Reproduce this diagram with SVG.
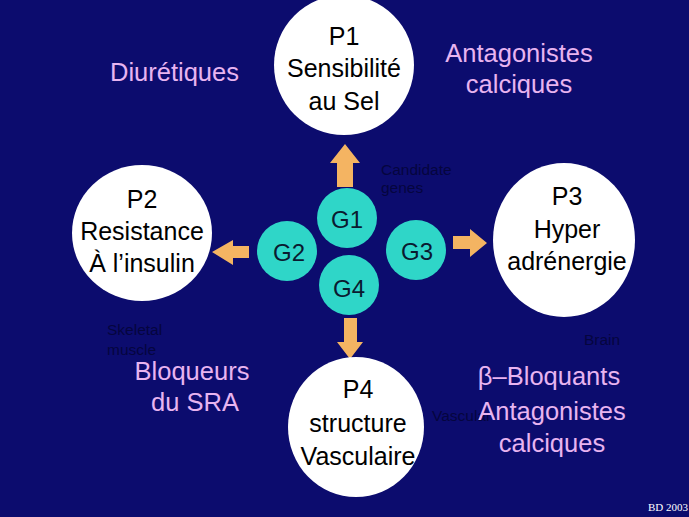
<svg xmlns="http://www.w3.org/2000/svg" width="689" height="517" viewBox="0 0 689 517">
<style>
.bg{fill:#0c0c6e}
.pc{fill:#ffffff}
.gc{fill:#2fd6c8}
.pt{font-family:"Liberation Sans",Arial,sans-serif;font-size:25px;fill:#000000;text-anchor:middle}
.gt{font-family:"Liberation Sans",Arial,sans-serif;font-size:24px;fill:#0a1a30;text-anchor:middle}
.lt{font-family:"Liberation Sans",Arial,sans-serif;font-size:25.5px;fill:#e8b4f0}
.st{font-family:"Liberation Sans",Arial,sans-serif;font-size:15.5px;fill:#05053e}
.ar{fill:#f4b462}
.ft{font-family:"Liberation Serif","Times New Roman",serif;font-size:11px;fill:#ffffff}
</style>
<rect class="bg" x="0" y="0" width="689" height="517"/>
<g id="notes">
<text class="st" x="381" y="175">Candidate</text>
<text class="st" x="381" y="193">genes</text>
<text class="st" x="107" y="335">Skeletal</text>
<text class="st" x="107" y="355">muscle</text>
<text class="st" x="584" y="345">Brain</text>
<text class="st" x="432" y="421">Vascular</text>
</g>
<g id="connectors">
<polygon class="ar" points="345,144 360,163 353,163 353,187 337,187 337,163 330,163"/>
<polygon class="ar" points="212,252 233,240 233,246 249,246 249,258 233,258 233,265"/>
<polygon class="ar" points="487,243 470,229 470,236 453,236 453,249 470,249 470,257"/>
<polygon class="ar" points="350,359 363,342 357,342 357,318 344,318 344,342 337,342"/>
</g>
<g id="P1">
<ellipse class="pc" cx="344" cy="65" rx="70" ry="70"/>
<text class="pt" x="344" y="45">P1</text>
<text class="pt" x="344" y="77">Sensibilité</text>
<text class="pt" x="344" y="110">au Sel</text>
</g>
<g id="P2">
<ellipse class="pc" cx="142" cy="233" rx="70" ry="68"/>
<text class="pt" x="142" y="208">P2</text>
<text class="pt" x="142" y="240">Resistance</text>
<text class="pt" x="142" y="272">À l’insulin</text>
</g>
<g id="P3">
<ellipse class="pc" cx="564" cy="240" rx="71" ry="77"/>
<text class="pt" x="567" y="205">P3</text>
<text class="pt" x="567" y="238">Hyper</text>
<text class="pt" x="567" y="270">adrénergie</text>
</g>
<g id="P4">
<ellipse class="pc" cx="356" cy="427" rx="68" ry="70"/>
<text class="pt" x="358" y="398">P4</text>
<text class="pt" x="358" y="432">structure</text>
<text class="pt" x="358" y="465">Vasculaire</text>
</g>
<g id="G1">
<circle class="gc" cx="347" cy="218" r="30"/>
<text class="gt" x="347" y="228">G1</text>
</g>
<g id="G2">
<circle class="gc" cx="287" cy="251" r="30"/>
<text class="gt" x="289" y="261">G2</text>
</g>
<g id="G3">
<circle class="gc" cx="416" cy="250" r="30"/>
<text class="gt" x="417" y="260">G3</text>
</g>
<g id="G4">
<circle class="gc" cx="349" cy="285" r="30"/>
<text class="gt" x="349" y="297">G4</text>
</g>
<g id="labels">
<text class="lt" x="110" y="81">Diurétiques</text>
<text class="lt" x="519" y="62" text-anchor="middle">Antagonistes</text>
<text class="lt" x="519" y="93" text-anchor="middle">calciques</text>
<text class="lt" x="192" y="380" text-anchor="middle">Bloqueurs</text>
<text class="lt" x="195" y="411" text-anchor="middle">du SRA</text>
<text class="lt" x="549" y="385" text-anchor="middle">β–Bloquants</text>
<text class="lt" x="552" y="420" text-anchor="middle">Antagonistes</text>
<text class="lt" x="552" y="452" text-anchor="middle">calciques</text>
</g>
<text class="ft" x="648" y="511">BD 2003</text>
</svg>
